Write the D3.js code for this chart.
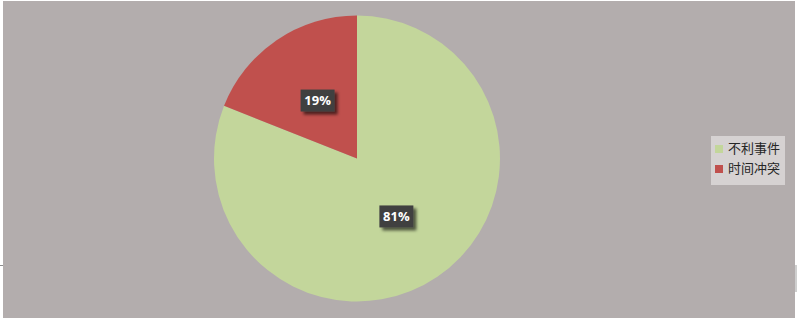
<!DOCTYPE html>
<html>
<head>
<meta charset="utf-8">
<script src="https://cdn.jsdelivr.net/npm/d3@7"></script>
<style>
  body { margin: 0; background: #ffffff; }
  svg { display: block; }
</style>
</head>
<body>
<div id="chart"></div>
<script>
// chart data
var categories = ["不利事件", "时间冲突"];
var values = [81, 19];
var colors = ["#c3d69b", "#c0504d"];

var svgWidth = 798;
var svgHeight = 318;

var svg = d3.select("#chart")
  .append("svg")
  .attr("width", svgWidth)
  .attr("height", svgHeight);

// shadow filter for the label boxes
var defs = svg.append("defs");
var shadow = defs.append("filter")
  .attr("id", "shadow")
  .attr("x", "-30%").attr("y", "-30%")
  .attr("width", "160%").attr("height", "160%");
shadow.append("feDropShadow")
  .attr("dx", 3).attr("dy", 3)
  .attr("stdDeviation", 1.5)
  .attr("flood-color", "#000")
  .attr("flood-opacity", 0.6);

// background panel
svg.append("rect")
  .attr("x", 3).attr("y", 1)
  .attr("width", 792).attr("height", 317)
  .attr("fill", "#b3adad");

// little edge marks seen on the original
svg.append("line")
  .attr("x1", 0).attr("x2", 3)
  .attr("y1", 265.5).attr("y2", 265.5)
  .attr("stroke", "#8c8c8c");
svg.append("rect")
  .attr("x", 795).attr("y", 265)
  .attr("width", 2).attr("height", 27)
  .attr("fill", "#cfcfcf");

var cx = 357, cy = 158.5, radius = 143;

var pie = d3.pie()
  .sort(null)
  .value(d => d);

var arc = d3.arc()
  .innerRadius(0)
  .outerRadius(radius);

var labelArc = d3.arc()
  .innerRadius(radius * 0.49)
  .outerRadius(radius * 0.49);

var pieGroup = svg.append("g")
  .attr("transform", `translate(${cx}, ${cy})`);

var arcs = pie(values);

pieGroup.selectAll("path")
  .data(arcs)
  .enter()
  .append("path")
  .attr("d", arc)
  .attr("fill", (d, i) => colors[i]);

// percentage labels
var labels = pieGroup.selectAll(".label")
  .data(arcs)
  .enter()
  .append("g")
  .attr("class", "label")
  .attr("transform", d => `translate(${labelArc.centroid(d)})`);

labels.append("rect")
  .attr("x", -17).attr("y", -11)
  .attr("width", 34).attr("height", 22)
  .attr("fill", "#404040")
  .attr("filter", "url(#shadow)");

labels.append("text")
  .attr("text-anchor", "middle")
  .attr("dy", "0.36em")
  .style("font-family", "'Open Sans', sans-serif")
  .style("font-size", "13px")
  .style("font-weight", "bold")
  .style("fill", "#ffffff")
  .text(d => d.data + "%");

// legend
var legend = svg.append("g")
  .attr("transform", "translate(711, 136)");

legend.append("rect")
  .attr("width", 74).attr("height", 49)
  .attr("fill", "#d6d2d2");

var items = legend.selectAll(".item")
  .data(categories)
  .enter()
  .append("g")
  .attr("class", "item")
  .attr("transform", (d, i) => `translate(0, ${i * 20})`);

items.append("rect")
  .attr("x", 4).attr("y", 9)
  .attr("width", 8).attr("height", 8)
  .attr("fill", (d, i) => colors[i]);

items.append("text")
  .attr("x", 17).attr("y", 17)
  .style("font-family", "'Noto Sans CJK SC', sans-serif")
  .style("font-size", "13px")
  .style("fill", "#262626")
  .text(d => d);
</script>
</body>
</html>
